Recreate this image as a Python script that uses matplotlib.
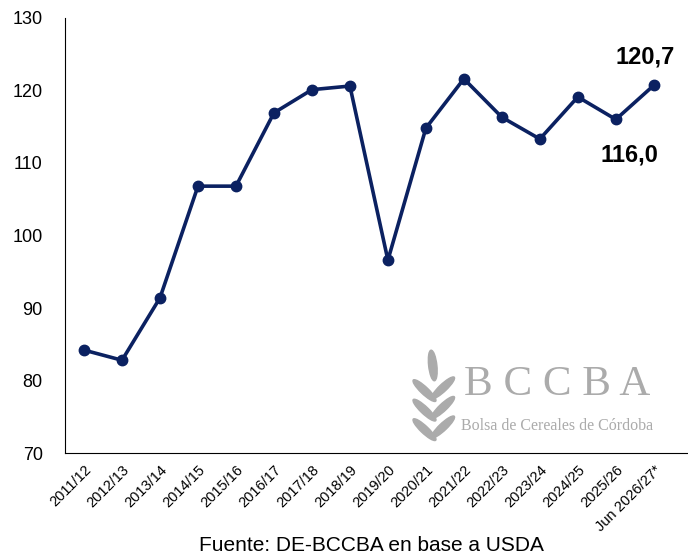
import matplotlib
matplotlib.use('Agg')
import matplotlib.pyplot as plt
from matplotlib.patches import Ellipse

campaigns = ['2011/12', '2012/13', '2013/14', '2014/15', '2015/16', '2016/17',
             '2017/18', '2018/19', '2019/20', '2020/21', '2021/22', '2022/23',
             '2023/24', '2024/25', '2025/26', 'Jun 2026/27*']
values = [84.2, 82.8, 91.4, 106.8, 106.8, 116.9, 120.1, 120.6, 96.6, 114.8,
          121.6, 116.3, 113.3, 119.1, 116.0, 120.7]
yticks = [70, 80, 90, 100, 110, 120, 130]

navy = '#0b2161'

fig = plt.figure(figsize=(6.88, 5.58), dpi=100)
ax = fig.add_axes([0.0945, 0.188, 0.9055, 0.78])

x = list(range(len(values)))
ax.plot(x, values, color=navy, linewidth=2.6, marker='o', markersize=7.5,
        zorder=3, clip_on=False)

ax.set_ylim(70, 130)
ax.set_xlim(-0.5, 15.9)
ax.set_yticks(yticks)
ax.set_xticks(x)
ax.set_xticklabels(campaigns, rotation=45, ha='right', rotation_mode='anchor',
                   fontsize=10.5, family='Liberation Sans')
for lab in ax.get_yticklabels():
    lab.set_fontsize(13)
    lab.set_family('Liberation Sans')
ax.tick_params(axis='y', length=0, pad=16)
ax.tick_params(axis='x', length=0, pad=7)
ax.spines['top'].set_visible(False)
ax.spines['right'].set_visible(False)

ax.annotate('120,7', (15, values[15]), xytext=(-6, 12), textcoords='offset points',
            ha='center', va='bottom', fontsize=17, fontweight='bold',
            family='Liberation Sans')
ax.annotate('116,0', (14, values[14]), xytext=(10, -17), textcoords='offset points',
            ha='center', va='top', fontsize=17, fontweight='bold',
            family='Liberation Sans')

# logo
grey = '#ababab'
fig.text(0.675, 0.31, 'B C C B A', fontsize=31, color=grey, family='Liberation Serif',
         va='center', ha='left')
fig.text(0.670, 0.237, 'Bolsa de Cereales de Córdoba', fontsize=11.5, color=grey,
         family='Liberation Serif', va='center', ha='left')
# wheat
cx = 0.632
fig.patches.append(Ellipse((cx - 0.003, 0.345), 0.012, 0.055, angle=5,
                           transform=fig.transFigure, color=grey))
for yy in [0.30, 0.265, 0.23]:
    fig.patches.append(Ellipse((cx - 0.015, yy), 0.012, 0.05, angle=40,
                               transform=fig.transFigure, color=grey))
    fig.patches.append(Ellipse((cx + 0.012, yy + 0.005), 0.012, 0.05, angle=-40,
                               transform=fig.transFigure, color=grey))

fig.text(0.54, 0.022, 'Fuente: DE-BCCBA en base a USDA', fontsize=15,
         family='Liberation Sans', ha='center', va='center')

fig.savefig('out.png', dpi=100)
